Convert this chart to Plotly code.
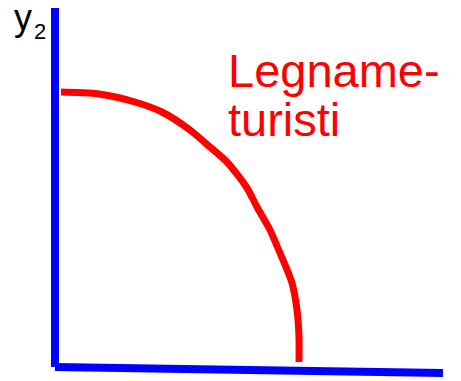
import plotly.graph_objects as go

# production possibility curve (frontier), arbitrary units
curve_x = [6, 35, 50, 80, 107, 135, 155, 172, 192, 202, 215, 222, 237, 242, 244, 244]
curve_y = [275, 274, 272, 265, 255, 237, 220, 205, 179, 160, 137, 121, 84, 57, 30, 5]

# hand-drawn axes
yaxis_line_x = [0, 0]
yaxis_line_y = [0, 359]
xaxis_line_x = [0, 388]
xaxis_line_y = [0, -6]

curve_label = ["Legname-", "turisti"]
axis_label = "y"
axis_sub = "2"

fig = go.Figure()

fig.add_trace(
    go.Scatter(
        x=yaxis_line_x,
        y=yaxis_line_y,
        mode="lines",
        line=dict(color="#0000ff", width=8),
        hoverinfo="skip",
    )
)
fig.add_trace(
    go.Scatter(
        x=xaxis_line_x,
        y=xaxis_line_y,
        mode="lines",
        line=dict(color="#0000ff", width=8),
        hoverinfo="skip",
    )
)
fig.add_trace(
    go.Scatter(
        x=curve_x,
        y=curve_y,
        mode="lines",
        line=dict(color="#ff0000", width=7, shape="spline", smoothing=0.7),
        hoverinfo="skip",
    )
)

font_family = "Arial, Liberation Sans, sans-serif"
label_font = dict(family=font_family, size=47, color="#ff0000")

fig.add_annotation(
    x=171, y=297, xref="x", yref="y", text=curve_label[0],
    showarrow=False, xanchor="left", yanchor="middle", font=label_font,
)
fig.add_annotation(
    x=171, y=248, xref="x", yref="y", text=curve_label[1],
    showarrow=False, xanchor="left", yanchor="middle", font=label_font,
)
fig.add_annotation(
    x=-43, y=350, xref="x", yref="y", text=axis_label,
    showarrow=False, xanchor="left", yanchor="middle",
    font=dict(family=font_family, size=36, color="black"),
)
fig.add_annotation(
    x=-23, y=336, xref="x", yref="y", text=axis_sub,
    showarrow=False, xanchor="left", yanchor="middle",
    font=dict(family=font_family, size=22, color="black"),
)

fig.update_layout(
    width=461,
    height=381,
    margin=dict(l=0, r=0, t=0, b=0, pad=0),
    paper_bgcolor="white",
    plot_bgcolor="white",
    showlegend=False,
)
fig.update_xaxes(range=[-55, 406], visible=False)
fig.update_yaxes(range=[-14, 367], visible=False)

# drop the page's default body margin so the figure sits at the corner
fig.write_html(
    "out.html",
    config={"displayModeBar": False},
    post_script="document.body.style.margin = '0';",
)
